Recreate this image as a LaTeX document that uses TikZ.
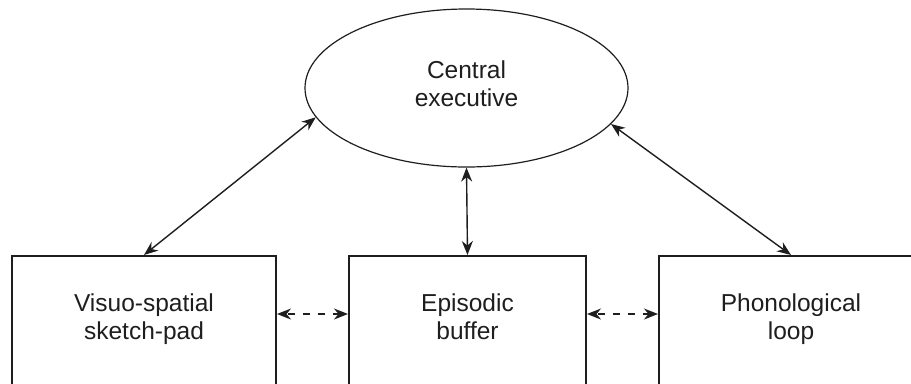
\documentclass[tikz,border=0pt]{standalone}
\usepackage{fontspec}
\setmainfont{Liberation Sans}
\usetikzlibrary{shapes.geometric,arrows.meta}
\definecolor{ink}{HTML}{1E1E1E}
\begin{document}
\begin{tikzpicture}[x=1bp,y=-1bp,
  labeltext/.style={font=\fontsize{24.5bp}{28bp}\selectfont, align=center, text=ink,
    execute at begin node=\strut, execute at end node=\strut},
  component/.style={draw=ink, line width=2bp, rectangle, minimum width=264bp,
    minimum height=130bp, inner sep=0pt, anchor=north, labeltext},
  executive/.style={draw=ink, line width=1.2bp, ellipse, minimum width=323bp,
    minimum height=158bp, inner sep=0pt, labeltext},
  tip/.tip={Stealth[length=14bp,width=11bp,inset=4.5bp]},
  link/.style={draw=ink, line width=1.4bp, tip-tip},
  weaklink/.style={link, line width=1.5bp, dash pattern=on 7bp off 8bp, dash phase=-2bp}]
\useasboundingbox (0,0) rectangle (911,383);
\clip (0,0) rectangle (911,383);

% central executive
\node[executive] (ce) at (466.5,88) {Central\\executive};

% slave systems (boxes run off the lower edge)
\node[component] (vss) at (144,255) {Visuo-spatial\\sketch-pad};
\node[component, minimum width=237bp] (eb) at (467.5,255) {Episodic\\buffer};
\node[component] (pl) at (791,255) {Phonological\\loop};

% links to the central executive
\draw[link] (ce.191) -- (vss.north);
\draw[link] (ce.south) -- (eb.north);
\draw[link] (ce.346) -- (pl.north);

% links between the buffer and the other stores
\draw[weaklink] ([yshift=7bp]vss.east) -- ([yshift=7bp]eb.west);
\draw[weaklink] ([yshift=7bp]eb.east) -- ([yshift=7bp]pl.west);
\end{tikzpicture}
\end{document}
